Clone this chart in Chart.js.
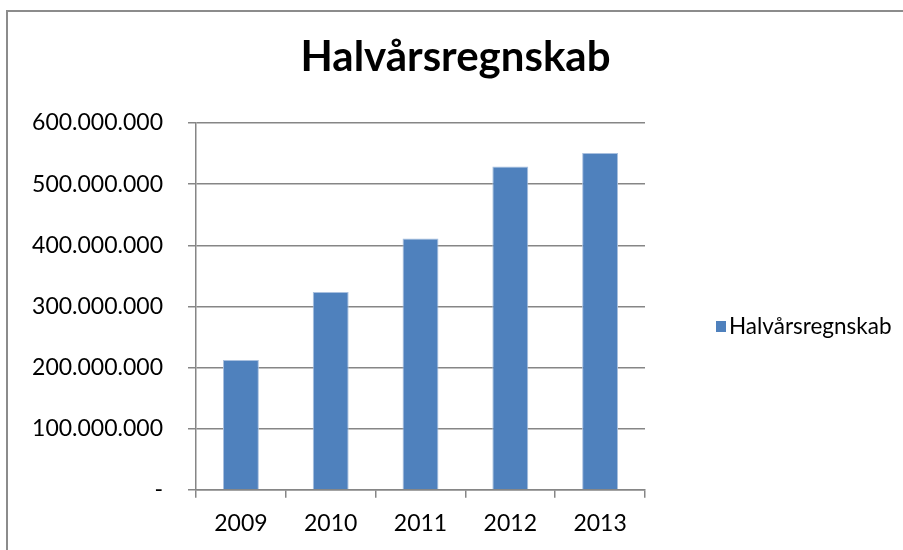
<!DOCTYPE html>
<html>
<head>
<meta charset="utf-8">
<script src="https://cdn.jsdelivr.net/npm/chart.js@4/dist/chart.umd.min.js"></script>
<style>
  html, body { margin: 0; padding: 0; background: #fff; overflow: hidden; }
  #wrap { position: relative; width: 903px; height: 550px; }
  #frame { position: absolute; left: 6px; top: 10px; width: 1000px; height: 1000px; border: 2px solid #8c8c8c; box-sizing: border-box; }
  canvas { position: absolute; left: 0; top: 0; }
</style>
</head>
<body>
<div id="wrap">
  <div id="frame"></div>
  <canvas id="c" width="903" height="550"></canvas>
</div>
<script>
const categories = ['2009', '2010', '2011', '2012', '2013'];
const seriesName = 'Halvårsregnskab';
const seriesValues = [212500000, 323500000, 411000000, 529000000, 551000000];
const yTickMax = 600000000;
const yTickStep = 100000000;
const chartTitle = 'Halvårsregnskab';

const FONT = 'Lato, "Open Sans", sans-serif';
const GRID = '#868686';
const BAR = '#4F81BD';

function fmt(v) {
  if (v === 0) return '-';
  return String(Math.round(v)).replace(/\B(?=(\d{3})+(?!\d))/g, '.');
}

const customLegend = {
  id: 'customLegend',
  afterDraw(chart) {
    const ctx = chart.ctx;
    const ds = chart.data.datasets[0];
    const x = 716, y = 326;
    ctx.save();
    ctx.fillStyle = ds.backgroundColor;
    ctx.fillRect(x, y - 5, 10, 11);
    ctx.fillStyle = '#000';
    ctx.font = '22.5px ' + FONT;
    ctx.textBaseline = 'middle';
    ctx.textAlign = 'left';
    ctx.fillText(ds.label, x + 13, y + 1);
    ctx.restore();
  }
};

new Chart(document.getElementById('c'), {
  type: 'bar',
  data: {
    labels: categories,
    datasets: [{
      label: seriesName,
      data: seriesValues,
      backgroundColor: BAR,
      borderColor: '#a9c0df',
      borderWidth: 1,
      barPercentage: 0.4,
      categoryPercentage: 1.0
    }]
  },
  options: {
    responsive: false,
    animation: false,
    devicePixelRatio: 1,
    layout: { padding: { left: 8, right: 0, top: 0, bottom: 0.6 } },
    plugins: {
      legend: { display: false },
      tooltip: { enabled: false },
      title: {
        display: true,
        text: chartTitle,
        color: '#000',
        font: { family: FONT, size: 42, weight: 'bold', lineHeight: 1.2 },
        padding: { top: 32.4, bottom: 40.2 }
      }
    },
    scales: {
      x: {
        grid: { display: true, drawOnChartArea: false, drawTicks: true, tickLength: 8, color: GRID, lineWidth: 1.5 },
        border: { display: true, color: GRID, width: 1.5 },
        ticks: { color: '#000', font: { family: FONT, size: 23 }, padding: 12 }
      },
      y: {
        min: 0,
        max: yTickMax,
        afterFit(scale) { scale.width = 188; },
        grid: { color: GRID, lineWidth: 1.5, tickLength: 8 },
        border: { display: true, color: GRID, width: 1.5 },
        ticks: { stepSize: yTickStep, color: '#000', font: { family: FONT, size: 23 }, padding: 25, callback: (v) => fmt(v) }
      },
      legendSpace: {
        type: 'linear',
        position: 'right',
        display: true,
        afterFit(scale) { scale.width = 258; },
        grid: { display: false, drawOnChartArea: false },
        border: { display: false },
        ticks: { display: false }
      }
    }
  },
  plugins: [customLegend]
});
</script>
</body>
</html>
